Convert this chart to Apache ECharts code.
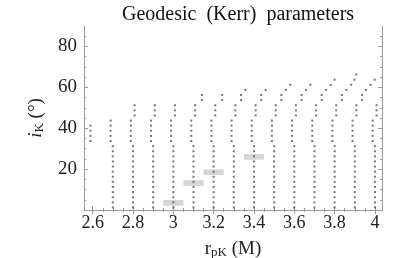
<!DOCTYPE html>
<html>
<head>
<meta charset="utf-8">
<script src="https://cdn.jsdelivr.net/npm/echarts@6/dist/echarts.min.js"></script>
<style>
html,body{margin:0;padding:0;background:#fff;}
#c{width:415px;height:258px;}
</style>
</head>
<body>
<div id="c"></div>
<script>
// ---- Data ----
// nominal periastron radii of each column
const rpColumns = [2.6, 2.7, 2.8, 2.9, 3.0, 3.1, 3.2, 3.3, 3.4, 3.5, 3.6, 3.7, 3.8, 3.9, 4.0];

// lower band: x = r_pK, inclinations (deg)
const lowerR = [2.7, 2.8, 2.9, 3.0, 3.1, 3.2, 3.3, 3.4, 3.5, 3.6, 3.7, 3.8, 3.9, 4.0];
const lowerInc = [1.25, 3.75, 6.25, 8.75, 11.25, 13.75, 16.25, 18.75, 21.25, 23.75, 26.25, 28.75, 31.25];

// middle band (slightly left of the column)
const middleR = [2.589, 2.689, 2.789, 2.889, 2.989, 3.089, 3.189, 3.289, 3.389, 3.489, 3.589, 3.689, 3.789, 3.889, 3.989];
const middleInc = [33.75, 36.25, 38.75, 41.25, 43.75];
const middleInc26 = [33.75, 36.25, 38.75, 41.25];   // first column (2.6) is shorter

// upper band (slightly right of the column)
const upperR = [2.808, 2.908, 3.008, 3.108, 3.208, 3.308, 3.408, 3.508, 3.608, 3.708, 3.808, 3.908, 4.008];
const upperInc = [46.25, 48.75, 51.25];

// top "hooks" bending to larger r: [r_pK, inclination]
const hookPoints = [
  [3.142, 53.75], [3.142, 56.25],
  [3.242, 53.75], [3.242, 56.25],
  [3.336, 53.75], [3.336, 56.25], [3.358, 58.75],
  [3.436, 53.75], [3.436, 56.25], [3.458, 58.75],
  [3.536, 53.75], [3.536, 56.25], [3.558, 58.75], [3.580, 61.25],
  [3.636, 53.75], [3.636, 56.25], [3.658, 58.75], [3.680, 61.25],
  [3.736, 53.75], [3.736, 56.25], [3.758, 58.75], [3.780, 61.25], [3.800, 63.75],
  [3.836, 53.75], [3.836, 56.25], [3.858, 58.75], [3.882, 61.25], [3.898, 63.75], [3.907, 66.25],
  [3.936, 53.75], [3.936, 56.25], [3.955, 58.75], [3.978, 61.25], [3.999, 63.75]
];

// highlighted (grey bar) geodesics
const boxR = [3.0, 3.1, 3.2, 3.4];
const boxInc = [3.5, 13.2, 18.5, 26.0];

// axis ticks
const xMajorTicks = [2.6, 2.8, 3.0, 3.2, 3.4, 3.6, 3.8, 4.0];
const xTickLabels = ['2.6', '2.8', '3', '3.2', '3.4', '3.6', '3.8', '4'];
const xMinorTicks = [2.6, 2.65, 2.7, 2.75, 2.8, 2.85, 2.9, 2.95, 3.0, 3.05, 3.1, 3.15, 3.2, 3.25, 3.3, 3.35, 3.4, 3.45, 3.5, 3.55, 3.6, 3.65, 3.7, 3.75, 3.8, 3.85, 3.9, 3.95, 4.0];
const yMajorTicks = [20, 40, 60, 80];
const yTickLabels = ['20', '40', '60', '80'];
const yMinorTicks = [5, 10, 15, 20, 25, 30, 35, 40, 45, 50, 55, 60, 65, 70, 75, 80, 85];

// ---- build point list ----
const dots = [];
lowerR.forEach(r => lowerInc.forEach(i => dots.push([r, i])));
middleR.forEach((r, k) => (k === 0 ? middleInc26 : middleInc).forEach(i => dots.push([r, i])));
upperR.forEach(r => upperInc.forEach(i => dots.push([r, i])));
hookPoints.forEach(p => dots.push(p));
const boxes = boxR.map((r, k) => [r, boxInc[k]]);

const SERIF = 'Liberation Serif';
const frameColor = '#9a9a9a';
const X_MIN = 2.557, X_MAX = 4.035, Y_MIN = 0, Y_MAX = 90;

function xAx(pos, major, labels) {
  return {
    type: 'value', position: pos, min: X_MIN, max: X_MAX,
    axisLine: { show: major, lineStyle: { color: frameColor, width: 1 } },
    axisTick: { show: true, inside: true, length: major ? 4 : 2,
      customValues: major ? xMajorTicks : xMinorTicks,
      lineStyle: { color: frameColor, width: 1 } },
    axisLabel: labels ? {
      show: true, customValues: xMajorTicks, margin: 4,
      fontFamily: SERIF, fontSize: 18, color: '#222',
      formatter: v => xTickLabels[xMajorTicks.findIndex(t => Math.abs(t - v) < 1e-6)]
    } : { show: false },
    splitLine: { show: false },
    name: labels ? 'r{sub|pK} (M)' : '',
    nameLocation: 'middle', nameGap: 29,
    nameTextStyle: { fontFamily: SERIF, fontSize: 19, color: '#222',
      rich: { sub: { fontFamily: SERIF, fontSize: 13, color: '#222', padding: [7, 0, 0, 0] } } }
  };
}
function yAx(pos, major, labels) {
  return {
    type: 'value', position: pos, min: Y_MIN, max: Y_MAX,
    axisLine: { show: major, lineStyle: { color: frameColor, width: 1 } },
    axisTick: { show: true, inside: true, length: major ? 4 : 2,
      customValues: major ? yMajorTicks : yMinorTicks,
      lineStyle: { color: frameColor, width: 1 } },
    axisLabel: labels ? {
      show: true, customValues: yMajorTicks, margin: 7,
      fontFamily: SERIF, fontSize: 19, color: '#222',
      formatter: v => yTickLabels[yMajorTicks.indexOf(v)]
    } : { show: false },
    splitLine: { show: false },
    name: labels ? '{it|i}{sub|K} (°)' : '',
    nameLocation: 'middle', nameGap: 38, nameRotate: 90,
    nameTextStyle: { fontFamily: SERIF, fontSize: 19, color: '#222',
      rich: { it: { fontFamily: SERIF, fontSize: 19, fontStyle: 'italic', color: '#222' },
              sub: { fontFamily: SERIF, fontSize: 13, color: '#222', padding: [7, 0, 0, 0] } } }
  };
}

const chart = echarts.init(document.getElementById('c'), null, { renderer: 'canvas' });
chart.setOption({
  animation: false,
  backgroundColor: '#fff',
  title: {
    text: 'Geodesic  (Kerr)  parameters', left: 117, top: 0,
    textStyle: { fontFamily: SERIF, fontSize: 20, fontWeight: 'normal', color: '#111' }
  },
  grid: { left: 84, right: 33, top: 26, bottom: 48, containLabel: false, outerBoundsMode: 'none' },
  xAxis: [xAx('bottom', true, true), xAx('bottom', false, false), xAx('top', true, false), xAx('top', false, false)],
  yAxis: [yAx('left', true, true), yAx('left', false, false), yAx('right', true, false), yAx('right', false, false)],
  series: [
    {
      type: 'custom', xAxisIndex: 0, yAxisIndex: 0, z: 1,
      data: boxes,
      renderItem: function (params, api) {
        const x = api.value(0), y = api.value(1);
        const p1 = api.coord([x - 0.05, y + 1.4]);
        const p2 = api.coord([x + 0.05, y - 1.4]);
        return { type: 'rect', shape: { x: p1[0], y: p1[1], width: p2[0] - p1[0], height: p2[1] - p1[1] },
                 style: { fill: '#d6d6d6' } };
      }
    },
    {
      type: 'scatter', xAxisIndex: 0, yAxisIndex: 0, z: 3,
      data: dots, symbol: 'rect', symbolSize: 2,
      itemStyle: { color: '#555' }, silent: true
    }
  ]
});
</script>
</body>
</html>
